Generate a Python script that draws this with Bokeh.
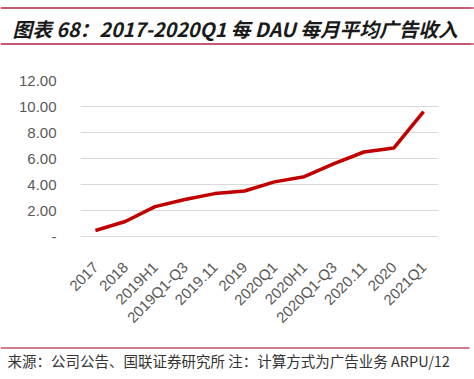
import math
from bokeh.plotting import figure
from bokeh.layouts import column
from bokeh.models import Range1d, FixedTicker, CustomJSTickFormatter, Span
from bokeh.core.properties import value
from bokeh.embed import file_html
from bokeh.resources import INLINE

categories = ["2017", "2018", "2019H1", "2019Q1-Q3", "2019.11", "2019", "2020Q1",
              "2020H1", "2020Q1-Q3", "2020.11", "2020", "2021Q1"]
values = [0.46, 1.15, 2.3, 2.85, 3.3, 3.5, 4.2, 4.6, 5.6, 6.5, 6.8, 9.6]
y_ticks = [0, 2, 4, 6, 8, 10, 12]

title_text = "图表 68：2017-2020Q1 每 DAU 每月平均广告收入"
footer_text = "来源：公司公告、国联证券研究所 注：计算方式为广告业务 ARPU/12"

W = 474
ACCENT = "#c04f68"

# header
hh = 50
h = figure(width=W, height=hh, x_range=Range1d(0, W), y_range=Range1d(0, hh),
           x_axis_type=None, y_axis_type=None, toolbar_location=None,
           output_backend="svg", min_border=0, outline_line_color=None)
h.frame_align = False
h.grid.visible = False
h.quad(left=[0, 0], right=[470, 470], bottom=[hh - 8.2, hh - 44.2], top=[hh - 6.8, hh - 42.8],
       fill_color=ACCENT, line_color=None)
for yy in (hh - 7.5, hh - 43.5):
    h.add_layout(Span(location=yy, dimension="width", line_color=ACCENT, line_width=1.4))
h.text(x=[12], y=[hh - 27.5], text=[title_text], text_font=value("Noto Sans CJK SC"),
       text_font_size="19.7px", text_font_style="bold italic", text_color="#1a1a1a",
       text_baseline="middle", text_align="left")

# main chart
p = figure(width=W, height=290, x_range=categories, y_range=Range1d(0, 12),
           toolbar_location=None, output_backend="svg",
           min_border_left=80, min_border_right=36, min_border_top=30, min_border_bottom=104,
           outline_line_color=None)
p.line(x=categories, y=values, line_color="#c00000", line_width=3.5)
p.xgrid.visible = False
p.ygrid.grid_line_color = "#d9d9d9"
p.ygrid.grid_line_width = 1
p.yaxis.ticker = FixedTicker(ticks=y_ticks)
p.yaxis.formatter = CustomJSTickFormatter(code="return tick == 0 ? '-' : tick.toFixed(2);")
p.yaxis.axis_line_color = None
p.yaxis.major_tick_line_color = None
p.yaxis.minor_tick_line_color = None
p.yaxis.major_label_standoff = 18
p.xaxis.axis_line_color = "#d9d9d9"
p.xaxis.major_tick_line_color = None
p.xaxis.major_label_standoff = 22
p.xaxis.major_label_orientation = math.pi / 4
for ax in (p.xaxis, p.yaxis):
    ax.major_label_text_font = "Liberation Sans"
    ax.major_label_text_font_size = "15px"
    ax.major_label_text_color = "#595959"

# footer
fh = 39
f = figure(width=W, height=fh, x_range=Range1d(0, W), y_range=Range1d(0, fh),
           x_axis_type=None, y_axis_type=None, toolbar_location=None,
           output_backend="svg", min_border=0, outline_line_color=None)
f.frame_align = False
f.grid.visible = False
f.quad(left=[0], right=[469], bottom=[fh - 8.2], top=[fh - 6.8],
       fill_color=ACCENT, line_color=None)
f.text(x=[7], y=[fh - 20], text=[footer_text], text_font=value("Noto Sans CJK SC"),
       text_font_size="14.5px", text_color="#333333",
       text_baseline="middle", text_align="left")

layout = column(h, p, f, spacing=0)
open("out.html", "w").write(file_html(layout, INLINE))
